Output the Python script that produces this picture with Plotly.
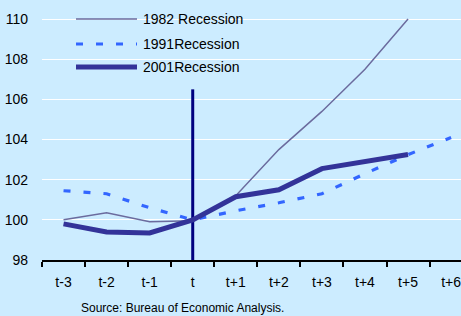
import plotly.graph_objects as go

categories = ["t-3", "t-2", "t-1", "t", "t+1", "t+2", "t+3", "t+4", "t+5", "t+6"]
rec_1982 = [100.0, 100.35, 99.9, 99.95, 101.2, 103.5, 105.4, 107.5, 110.0, None]
rec_1991 = [101.45, 101.3, 100.6, 100.0, 100.45, 100.85, 101.3, 102.3, 103.25, 104.1]
rec_2001 = [99.8, 99.4, 99.35, 100.0, 101.15, 101.5, 102.55, 102.9, 103.25, None]
event_x = ["t", "t"]
event_y = [98, 106.5]
y_ticks = [98, 100, 102, 104, 106, 108, 110]

BG = "#CCECFF"
C82 = "#6B6B9E"
C91 = "#3366FF"
C01 = "#333399"
CEV = "#000080"
FONT = "Liberation Sans, Arial, sans-serif"

fig = go.Figure()
fig.add_trace(go.Scatter(x=categories, y=rec_1991, mode="lines", name="1991Recession",
                         line=dict(color=C91, width=3.2, dash="7px,13px")))
fig.add_trace(go.Scatter(x=categories, y=rec_1982, mode="lines", name="1982 Recession",
                         line=dict(color=C82, width=1.5)))
fig.add_trace(go.Scatter(x=event_x, y=event_y, mode="lines", showlegend=False,
                         line=dict(color=CEV, width=3)))
fig.add_trace(go.Scatter(x=categories, y=rec_2001, mode="lines", name="2001Recession",
                         line=dict(color=C01, width=5)))

# plot-area geometry for the hand-drawn legend (paper coordinates)
L, R, B = 42, 461, 260
def px(xp):
    return (xp - L) / (R - L)
def py(yp):
    return (B - yp) / B

shapes = [dict(type="rect", xref="paper", yref="paper", x0=px(45), x1=px(271),
               y0=py(80), y1=1.0, fillcolor=BG, line=dict(width=0), layer="between")]
legend_items = [("1982 Recession", C82, 1.5, "solid", 19),
                ("1991Recession", C91, 3.2, "7px,13px", 44),
                ("2001Recession", C01, 5, "solid", 67)]
annotations = []
for name, col, w, dash, yy in legend_items:
    shapes.append(dict(type="line", xref="paper", yref="paper", x0=px(76), x1=px(137),
                       y0=py(yy), y1=py(yy), line=dict(color=col, width=w, dash=dash),
                       layer="above"))
    annotations.append(dict(text=name, xref="paper", yref="paper", x=px(141), y=py(yy),
                            xanchor="left", yanchor="middle", showarrow=False,
                            font=dict(size=14, color="black", family=FONT)))
annotations.append(dict(text="Source: Bureau of Economic Analysis.", xref="paper", yref="paper",
                        x=px(79), y=py(308), xanchor="left", yanchor="middle", showarrow=False,
                        font=dict(size=12, color="black", family=FONT)))

fig.update_layout(
    width=461, height=316,
    margin=dict(l=L, r=0, t=0, b=316 - B),
    paper_bgcolor=BG, plot_bgcolor=BG,
    showlegend=False,
    font=dict(family=FONT, size=14, color="black"),
    shapes=shapes, annotations=annotations,
    xaxis=dict(type="category", categoryorder="array", categoryarray=categories,
               range=[-0.5, 9.23], tickson="boundaries", ticks="outside", ticklen=5,
               tickwidth=1.5, tickcolor="black", showline=True, linecolor="black",
               linewidth=1.5, showgrid=False, zeroline=False, ticklabelstandoff=8,
               tickfont=dict(size=14)),
    yaxis=dict(range=[98, 110.95], tickvals=y_ticks, showgrid=True, gridcolor="white",
               gridwidth=1, zeroline=False, showline=False, ticks="",
               ticklabelstandoff=13, tickfont=dict(size=14)),
)

fig.write_html("out.html", config={"displayModeBar": False},
               post_script="document.body.style.margin='0';document.body.style.background='" + BG + "';")
